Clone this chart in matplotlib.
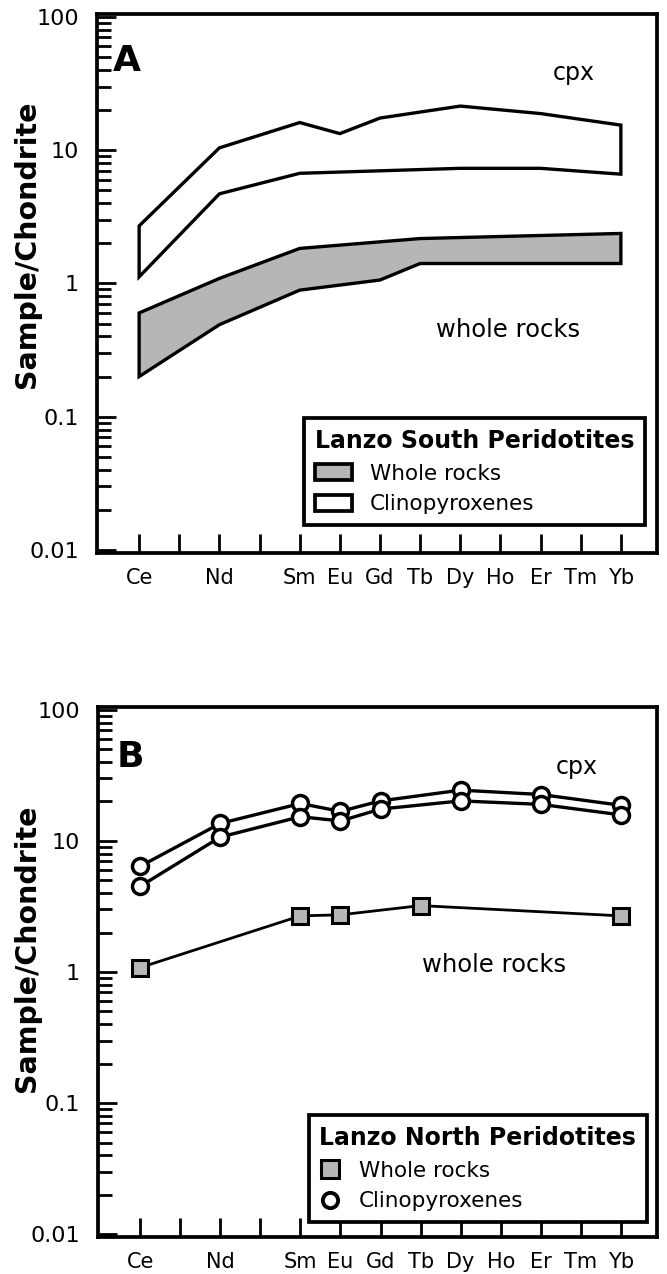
import numpy as np
import matplotlib
matplotlib.use('Agg')
import matplotlib.pyplot as plt
from matplotlib.patches import Patch
from matplotlib.lines import Line2D
from matplotlib.ticker import LogLocator, FixedLocator, NullFormatter

plt.rcParams['font.family'] = ['DejaVu Sans']

# REE order on the x axis (Pr and Pm get ticks but no label)
ree = ['Ce', 'Pr', 'Nd', 'Pm', 'Sm', 'Eu', 'Gd', 'Tb', 'Dy', 'Ho', 'Er', 'Tm', 'Yb']
ree_labels = ['Ce', '', 'Nd', '', 'Sm', 'Eu', 'Gd', 'Tb', 'Dy', 'Ho', 'Er', 'Tm', 'Yb']
yticks = [0.01, 0.1, 1, 10, 100]
ytick_labels = ['0.01', '0.1', '1', '10', '100']

# panel A - Lanzo South envelopes
a_cpx_hi_el = ['Ce', 'Nd', 'Sm', 'Eu', 'Gd', 'Dy', 'Er', 'Yb']
a_cpx_hi = [2.7, 10.4, 16.1, 13.3, 17.4, 21.4, 18.8, 15.4]
a_cpx_lo_el = ['Ce', 'Nd', 'Sm', 'Dy', 'Er', 'Yb']
a_cpx_lo = [1.12, 4.7, 6.7, 7.3, 7.3, 6.6]
a_wr_hi_el = ['Ce', 'Nd', 'Sm', 'Tb', 'Yb']
a_wr_hi = [0.6, 1.09, 1.83, 2.17, 2.37]
a_wr_lo_el = ['Ce', 'Nd', 'Sm', 'Gd', 'Tb', 'Yb']
a_wr_lo = [0.2, 0.49, 0.89, 1.06, 1.41, 1.41]

# panel B - Lanzo North samples
b_cpx_el = ['Ce', 'Nd', 'Sm', 'Eu', 'Gd', 'Dy', 'Er', 'Yb']
b_cpx1 = [6.4, 13.6, 19.3, 16.8, 20.2, 24.4, 22.6, 18.7]
b_cpx2 = [4.5, 10.7, 15.3, 14.2, 17.5, 20.2, 19.0, 15.8]
b_wr_el = ['Ce', 'Sm', 'Eu', 'Tb', 'Yb']
b_wr = [1.08, 2.68, 2.73, 3.21, 2.68]

GRAY = '#b6b6b6'
LW = 2.4


def pos(els):
    return [ree.index(e) for e in els]


def style_axes(ax):
    ax.set_yscale('log')
    ax.set_ylim(0.0095, 105)
    ax.set_xlim(-1.05, 12.9)
    ax.set_xticks(range(len(ree)))
    ax.set_xticklabels(ree_labels, fontsize=15)
    ax.yaxis.set_major_locator(FixedLocator(yticks))
    ax.set_yticklabels(ytick_labels, fontsize=16)
    ax.yaxis.set_minor_locator(LogLocator(base=10, subs=np.arange(2, 10)))
    ax.yaxis.set_minor_formatter(NullFormatter())
    ax.tick_params(axis='y', which='major', direction='in', length=14, width=2, pad=13)
    ax.tick_params(axis='y', which='minor', direction='in', length=10, width=2)
    ax.tick_params(axis='x', which='major', direction='in', length=14, width=2, pad=11)
    ax.tick_params(top=False, right=False)
    for s in ax.spines.values():
        s.set_linewidth(2.7)


def envelope(ax, hi_el, hi, lo_el, lo, fc):
    xs = pos(hi_el) + pos(lo_el)[::-1]
    ys = list(hi) + list(lo)[::-1]
    ax.fill(xs, ys, facecolor=fc, edgecolor='black', linewidth=LW, zorder=3)


def legend(ax, handles, title, anchor, hlen):
    leg = ax.legend(handles=handles, title=title, loc='upper right',
                    bbox_to_anchor=anchor, borderaxespad=0, fontsize=15.5,
                    title_fontproperties={'weight': 'bold', 'size': 17}, fancybox=False,
                    framealpha=1, edgecolor='black', handlelength=hlen, handleheight=0.8,
                    handletextpad=0.85, labelspacing=0.5, borderpad=0.5)
    leg.get_frame().set_linewidth(2.7)
    leg._legend_box.align = 'left'
    return leg


fig = plt.figure(figsize=(6.67, 12.74), dpi=100)

# ---- panel A
axA = fig.add_axes([0.1454, 0.566, 0.8396, 0.423])
style_axes(axA)
envelope(axA, a_cpx_hi_el, a_cpx_hi, a_cpx_lo_el, a_cpx_lo, 'white')
envelope(axA, a_wr_hi_el, a_wr_hi, a_wr_lo_el, a_wr_lo, GRAY)
axA.text(0.028, 0.912, 'A', transform=axA.transAxes, fontsize=26, fontweight='bold', va='center')
axA.text(0.852, 0.89, 'cpx', transform=axA.transAxes, fontsize=17, ha='center', va='center')
axA.text(0.734, 0.414, 'whole rocks', transform=axA.transAxes, fontsize=17.5, ha='center', va='center')
hA = [Patch(facecolor=GRAY, edgecolor='black', linewidth=2.7, label='Whole rocks'),
      Patch(facecolor='white', edgecolor='black', linewidth=2.7, label='Clinopyroxenes')]
legend(axA, hA, 'Lanzo South Peridotites', (0.979, 0.25), 1.7)
fig.text(0.04, 0.8085, 'Sample/Chondrite', rotation=90, fontsize=20.5, fontweight='bold',
         ha='center', va='center')

# ---- panel B
axB = fig.add_axes([0.147, 0.029, 0.838, 0.416])
style_axes(axB)
for vals in (b_cpx1, b_cpx2):
    axB.plot(pos(b_cpx_el), vals, color='black', lw=LW, marker='o', ms=11.5,
             mfc='white', mec='black', mew=2.5, zorder=3)
axB.plot(pos(b_wr_el), b_wr, color='black', lw=2.0, marker='s', ms=11.5,
         mfc=GRAY, mec='black', mew=2.2, zorder=3)
axB.text(0.034, 0.905, 'B', transform=axB.transAxes, fontsize=26, fontweight='bold', va='center')
axB.text(0.857, 0.887, 'cpx', transform=axB.transAxes, fontsize=17, ha='center', va='center')
axB.text(0.708, 0.513, 'whole rocks', transform=axB.transAxes, fontsize=17.5, ha='center', va='center')
hB = [Line2D([], [], ls='none', marker='s', ms=13, mfc=GRAY, mec='black', mew=2.2, label='Whole rocks'),
      Line2D([], [], ls='none', marker='o', ms=11, mfc='white', mec='black', mew=2.8, label='Clinopyroxenes')]
legend(axB, hB, 'Lanzo North Peridotites', (0.982, 0.23), 1.0)
fig.text(0.04, 0.256, 'Sample/Chondrite', rotation=90, fontsize=20.5, fontweight='bold',
         ha='center', va='center')

fig.savefig('out.png', dpi=100)
